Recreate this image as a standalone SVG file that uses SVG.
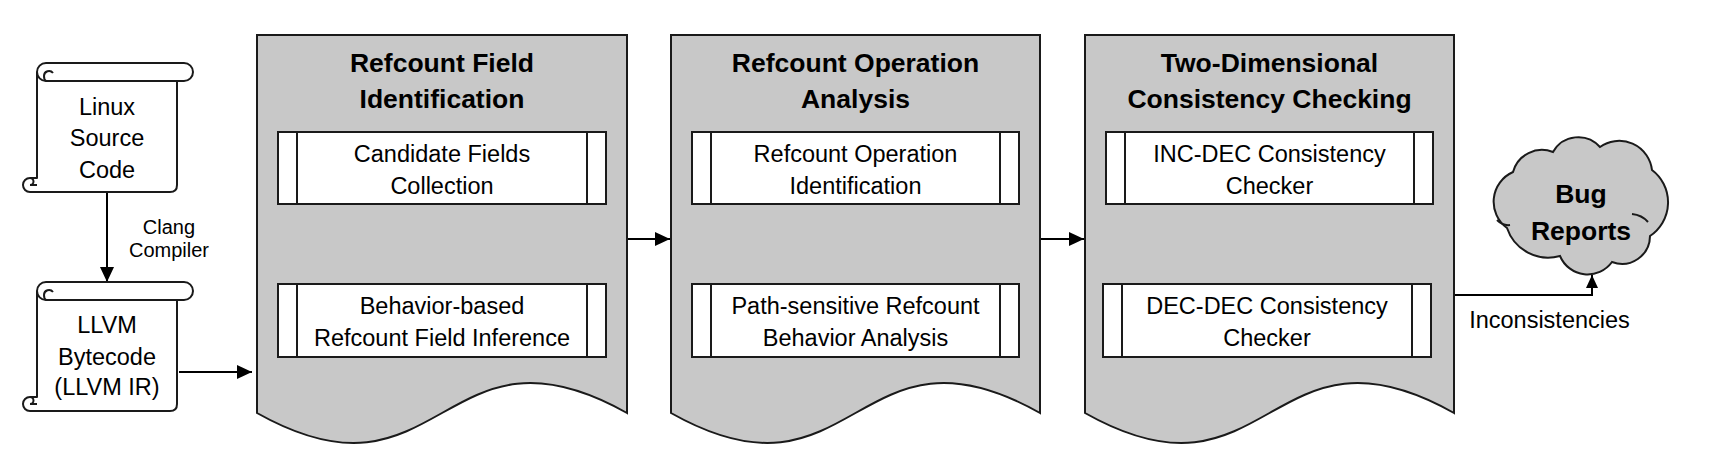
<svg xmlns="http://www.w3.org/2000/svg" width="1722" height="456" viewBox="0 0 1722 456">
<style>
  .txt { font-family: "Liberation Sans", Arial, sans-serif; font-size: 23.5px; fill: #000; text-anchor: middle; }
  .lbl { font-family: "Liberation Sans", Arial, sans-serif; font-size: 20px; fill: #000; text-anchor: middle; }
  .ttl { font-family: "Liberation Sans", Arial, sans-serif; font-size: 26.5px; font-weight: bold; fill: #000; text-anchor: middle; }
  .panel { fill: #c8c8c8; stroke: #1a1a1a; stroke-width: 2; }
  .box { fill: #fff; stroke: #1a1a1a; stroke-width: 2; }
  .ln { fill: none; stroke: #1a1a1a; stroke-width: 2; }
  .scroll { fill: #fff; stroke: #1a1a1a; stroke-width: 2; stroke-linejoin: round; }
  .conn { fill: none; stroke: #000; stroke-width: 2; }
</style>
<defs>
  <marker id="arr" markerUnits="userSpaceOnUse" markerWidth="15" markerHeight="14" refX="15" refY="7" orient="auto">
    <path d="M0,0 L15,7 L0,14 z" fill="#000"/>
  </marker>
  <marker id="arrs" markerUnits="userSpaceOnUse" markerWidth="13" markerHeight="12" refX="13" refY="6" orient="auto">
    <path d="M0,0 L13,6 L0,12 z" fill="#000"/>
  </marker>
  <g id="scrollShape">
    <path class="scroll" d="M46,63 H184 A9,9 0 0 1 184,81 H177 V185 Q177,192 170,192 H30 A7,7 0 0 1 30,178 H37 V72 A9,9 0 0 1 46,63 Z"/>
    <path class="ln" d="M177,81 H46 A9,9 0 0 1 37,72"/>
    <path class="ln" d="M53,73 A5,5 0 0 0 44,76 Q44,80 46,81"/>
    <path class="ln" d="M30,178 A3.5,3.5 0 0 1 30,185 H37"/>
  </g>
</defs>

<g id="connectors">
  <line class="conn" x1="107" y1="193" x2="107" y2="282" marker-end="url(#arr)"/>
  <line class="conn" x1="179" y1="372" x2="252" y2="372" marker-end="url(#arr)"/>
  <line class="conn" x1="627" y1="239" x2="670" y2="239" marker-end="url(#arr)"/>
  <line class="conn" x1="1040" y1="239" x2="1084" y2="239" marker-end="url(#arr)"/>
  <polyline class="conn" points="1454,295 1592,295 1592,275" marker-end="url(#arrs)"/>
</g>

<g id="linux-source">
  <use href="#scrollShape"/>
  <text class="txt" x="107" y="115">Linux</text>
  <text class="txt" x="107" y="146">Source</text>
  <text class="txt" x="107" y="178">Code</text>
</g>

<g id="clang-label">
  <text class="lbl" x="169" y="234">Clang</text>
  <text class="lbl" x="169" y="257">Compiler</text>
</g>

<g id="llvm-bytecode">
  <use href="#scrollShape" transform="translate(0,219)"/>
  <text class="txt" x="107" y="333">LLVM</text>
  <text class="txt" x="107" y="365">Bytecode</text>
  <text class="txt" x="107" y="395">(LLVM IR)</text>
</g>

<g id="panel-field-identification">
  <path class="panel" d="M257,35 H627 V413 C442,309 442,517 257,413 Z"/>
  <text class="ttl" x="442" y="71.5">Refcount Field</text>
  <text class="ttl" x="442" y="107.5">Identification</text>
</g>
<g id="candidate-fields">
  <rect class="box" x="278" y="132" width="328" height="72"/>
  <path class="ln" d="M297,132 V204 M587,132 V204"/>
  <text class="txt" x="442" y="161.5">Candidate Fields</text>
  <text class="txt" x="442" y="193.5">Collection</text>
</g>
<g id="field-inference">
  <rect class="box" x="278" y="284" width="328" height="73"/>
  <path class="ln" d="M297,284 V357 M587,284 V357"/>
  <text class="txt" x="442" y="313.5">Behavior-based</text>
  <text class="txt" x="442" y="345.5">Refcount Field Inference</text>
</g>

<g id="panel-operation-analysis">
  <path class="panel" d="M671,35 H1040 V413 C855.5,309 855.5,517 671,413 Z"/>
  <text class="ttl" x="855.5" y="71.5">Refcount Operation</text>
  <text class="ttl" x="855.5" y="107.5">Analysis</text>
</g>
<g id="operation-identification">
  <rect class="box" x="692" y="132" width="327" height="72"/>
  <path class="ln" d="M711,132 V204 M1000,132 V204"/>
  <text class="txt" x="855.5" y="161.5">Refcount Operation</text>
  <text class="txt" x="855.5" y="193.5">Identification</text>
</g>
<g id="behavior-analysis">
  <rect class="box" x="692" y="284" width="327" height="73"/>
  <path class="ln" d="M711,284 V357 M1000,284 V357"/>
  <text class="txt" x="855.5" y="313.5">Path-sensitive Refcount</text>
  <text class="txt" x="855.5" y="345.5">Behavior Analysis</text>
</g>

<g id="panel-consistency-checking">
  <path class="panel" d="M1085,35 H1454 V413 C1269.5,309 1269.5,517 1085,413 Z"/>
  <text class="ttl" x="1269.5" y="71.5">Two-Dimensional</text>
  <text class="ttl" x="1269.5" y="107.5">Consistency Checking</text>
</g>
<g id="inc-dec-checker">
  <rect class="box" x="1106" y="132" width="327" height="72"/>
  <path class="ln" d="M1125,132 V204 M1414,132 V204"/>
  <text class="txt" x="1269.5" y="161.5">INC-DEC Consistency</text>
  <text class="txt" x="1269.5" y="193.5">Checker</text>
</g>
<g id="dec-dec-checker">
  <rect class="box" x="1103" y="284" width="328" height="73"/>
  <path class="ln" d="M1122,284 V357 M1412,284 V357"/>
  <text class="txt" x="1267" y="313.5">DEC-DEC Consistency</text>
  <text class="txt" x="1267" y="345.5">Checker</text>
</g>

<g id="bug-reports">
  <path class="panel" d="M1507,228 A32.5,32.5 0 0 1 1513,172 A30,30 0 0 1 1553,152 A29,29 0 0 1 1600,147 A33,33 0 0 1 1652,170 A40.5,40.5 0 0 1 1650,236 A28,28 0 0 1 1612,262 A30,30 0 0 1 1560,256 A43.5,43.5 0 0 1 1507,228 Z"/>
  <path class="ln" d="M1497,220 Q1503,226 1510,225 M1632,214 Q1642,215 1648,222"/>
  <text class="ttl" x="1581" y="202.5">Bug</text>
  <text class="ttl" x="1581" y="239.5">Reports</text>
</g>

<g id="inconsistencies-label">
  <text class="txt" x="1549.5" y="328">Inconsistencies</text>
</g>
</svg>
